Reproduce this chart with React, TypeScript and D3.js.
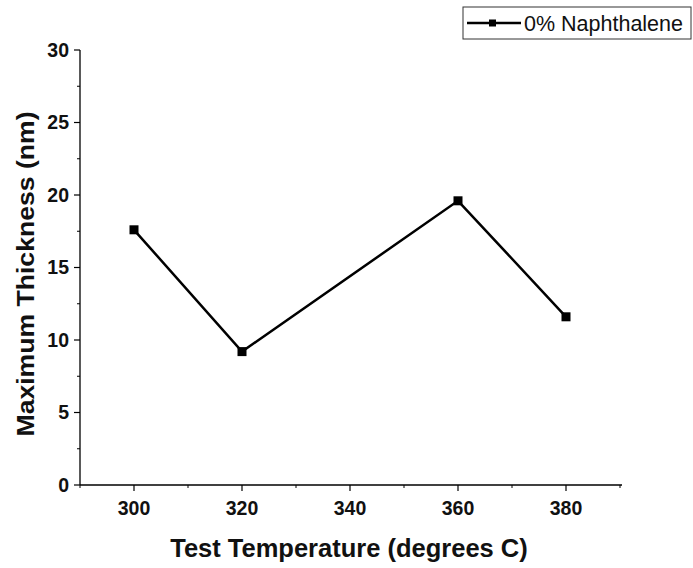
import React from "react";
import * as d3 from "d3";

const temperatures = [300, 320, 360, 380];
const thickness = [17.6, 9.2, 19.6, 11.6];
const xTicks = [300, 320, 340, 360, 380];
const yTicks = [0, 5, 10, 15, 20, 25, 30];
const seriesName = "0% Naphthalene";
const xTitle = "Test Temperature (degrees C)";
const yTitle = "Maximum Thickness (nm)";

const W = 693;
const H = 568;
const font = "Arial, 'Liberation Sans', sans-serif";

export default function App() {
  const x = d3.scaleLinear().domain([290, 390]).range([80, 620]);
  const y = d3.scaleLinear().domain([0, 30]).range([485, 50]);
  const minorX = d3.range(290, 391, 10).filter((v) => v % 20 !== 0);
  const minorY = d3.range(2.5, 30, 5);
  const pts = temperatures.map((t, i) => [x(t), y(thickness[i])] as [number, number]);
  const line = d3.line()(pts) || "";

  return (
    <div style={{ position: "absolute", left: 0, top: 0 }}>
      <svg width={W} height={H} style={{ display: "block", background: "#fff" }}>
        {/* axes lines */}
        <line x1={x(290)} x2={x(290)} y1={y(0)} y2={y(30)} stroke="#000" strokeWidth={1.3} />
        <line x1={x(290)} x2={x(390) + 2} y1={y(0)} y2={y(0)} stroke="#000" strokeWidth={1.3} />
        {yTicks.map((t) => (
          <g key={"y" + t}>
            <line x1={x(290) - 6} x2={x(290)} y1={y(t)} y2={y(t)} stroke="#000" strokeWidth={1.2} />
            <text x={x(290) - 11} y={y(t)} dy="0.35em" textAnchor="end" fontFamily={font} fontWeight="bold" fontSize={19.5} fill="#111">
              {t}
            </text>
          </g>
        ))}
        {minorY.map((t) => (
          <line key={"my" + t} x1={x(290) - 3} x2={x(290)} y1={y(t)} y2={y(t)} stroke="#000" strokeWidth={1} />
        ))}
        {xTicks.map((t) => (
          <g key={"x" + t}>
            <line x1={x(t)} x2={x(t)} y1={y(0)} y2={y(0) + 6} stroke="#000" strokeWidth={1.2} />
            <text x={x(t)} y={y(0) + 30} textAnchor="middle" fontFamily={font} fontWeight="bold" fontSize={19.5} fill="#111">
              {t}
            </text>
          </g>
        ))}
        {minorX.map((t) => (
          <line key={"mx" + t} x1={x(t)} x2={x(t)} y1={y(0)} y2={y(0) + 3} stroke="#000" strokeWidth={1} />
        ))}
        {/* titles */}
        <text x={349} y={557} textAnchor="middle" fontFamily={font} fontWeight="bold" fontSize={25.5} fill="#111">
          {xTitle}
        </text>
        <text
          transform={`translate(34, 274) rotate(-90)`}
          textAnchor="middle"
          fontFamily={font}
          fontWeight="bold"
          fontSize={23}
          textLength={325}
          lengthAdjust="spacingAndGlyphs"
          fill="#111"
        >
          {yTitle}
        </text>
        {/* series */}
        <path d={line} fill="none" stroke="#000" strokeWidth={2.5} />
        {pts.map(([px, py], i) => (
          <rect key={i} x={px - 4.5} y={py - 4.5} width={9} height={9} fill="#000" />
        ))}
        {/* legend */}
        <rect x={463} y={7} width={228} height={32} fill="#fff" stroke="#333" strokeWidth={1} />
        <line x1={467} x2={521} y1={23} y2={23} stroke="#000" strokeWidth={2.5} />
        <rect x={489} y={19.5} width={7} height={7} fill="#000" />
        <text x={524} y={23} dy="0.35em" fontFamily={font} fontSize={21.5} fill="#111">
          {seriesName}
        </text>
      </svg>
    </div>
  );
}
